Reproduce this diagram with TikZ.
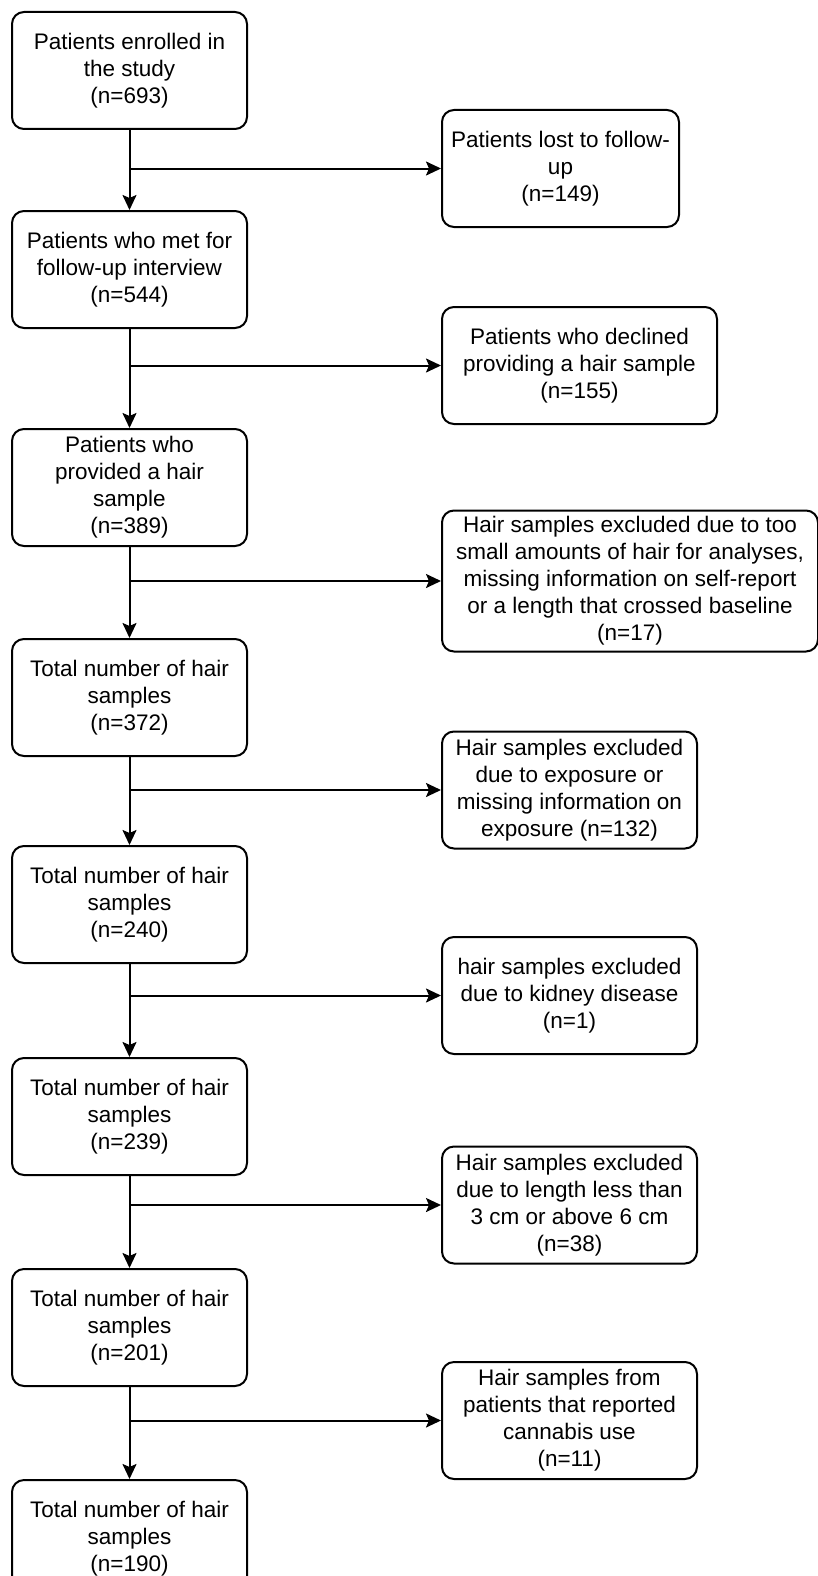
\documentclass[tikz,border=0pt]{standalone}
\usepackage{fontspec}
\setmainfont{Liberation Sans}
\usetikzlibrary{positioning,arrows.meta}

\begin{document}
\begin{tikzpicture}[x=1pt, y=-1pt, >={Stealth[length=15pt, width=14pt, inset=3pt]},
    every node/.style={font=\fontsize{22.5}{27}\selectfont},
    stage/.style={draw, line width=2pt, rounded corners=12pt, minimum width=235pt, minimum height=117pt, align=center, inner sep=0pt},
    excl/.style={draw, line width=2pt, rounded corners=12pt, minimum height=117pt, align=center, anchor=west, inner sep=0pt},
    flow/.style={->, line width=2pt}]
      \useasboundingbox (0,0) rectangle (818,1576);

      % main column
      \node[stage] (b1) at (129.5,70.5) {Patients enrolled in\\the study\\(n=693)};
      \node[stage, below=80pt of b1] (b2) {Patients who met for\\follow-up interview\\(n=544)};
      \node[stage, below=99pt of b2] (b3) {Patients who\\provided a hair\\sample\\(n=389)};
      \node[stage, below=91pt of b3] (b4) {Total number of hair\\samples\\(n=372)};
      \node[stage, below=88pt of b4] (b5) {Total number of hair\\samples\\(n=240)};
      \node[stage, below=93pt of b5] (b6) {Total number of hair\\samples\\(n=239)};
      \node[stage, below=92pt of b6] (b7) {Total number of hair\\samples\\(n=201)};
      \node[stage, below=92pt of b7] (b8) {Total number of hair\\samples\\(n=190)};

      % exclusions
      \node[excl, minimum width=237pt] (r1) at (441,168.5) {Patients lost to follow-\\up\\(n=149)};
      \node[excl, minimum width=275pt] (r2) at (441,365.5) {Patients who declined\\providing a hair sample\\(n=155)};
      \node[excl, minimum width=376pt, minimum height=141pt] (r3) at (441,581) {Hair samples excluded due to too\\small amounts of hair for analyses,\\missing information on self-report\\or a length that crossed baseline\\(n=17)};
      \node[excl, minimum width=255pt] (r4) at (441,790) {Hair samples excluded\\due to exposure or\\missing information on\\exposure (n=132)};
      \node[excl, minimum width=255pt] (r5) at (441,995.5) {hair samples excluded\\due to kidney disease\\(n=1)};
      \node[excl, minimum width=255pt] (r6) at (441,1205) {Hair samples excluded\\due to length less than\\3 cm or above 6 cm\\(n=38)};
      \node[excl, minimum width=255pt] (r7) at (441,1420.5) {Hair samples from\\patients that reported\\cannabis use\\(n=11)};

      \draw[flow] (b1) -- (b2);
      \draw[flow] (b2) -- (b3);
      \draw[flow] (b3) -- (b4);
      \draw[flow] (b4) -- (b5);
      \draw[flow] (b5) -- (b6);
      \draw[flow] (b6) -- (b7);
      \draw[flow] (b7) -- (b8);

      \draw[flow] (b1.south |- r1.west) -- (r1.west);
      \draw[flow] (b2.south |- r2.west) -- (r2.west);
      \draw[flow] (b3.south |- r3.west) -- (r3.west);
      \draw[flow] (b4.south |- r4.west) -- (r4.west);
      \draw[flow] (b5.south |- r5.west) -- (r5.west);
      \draw[flow] (b6.south |- r6.west) -- (r6.west);
      \draw[flow] (b7.south |- r7.west) -- (r7.west);
    \end{tikzpicture}
\end{document}
